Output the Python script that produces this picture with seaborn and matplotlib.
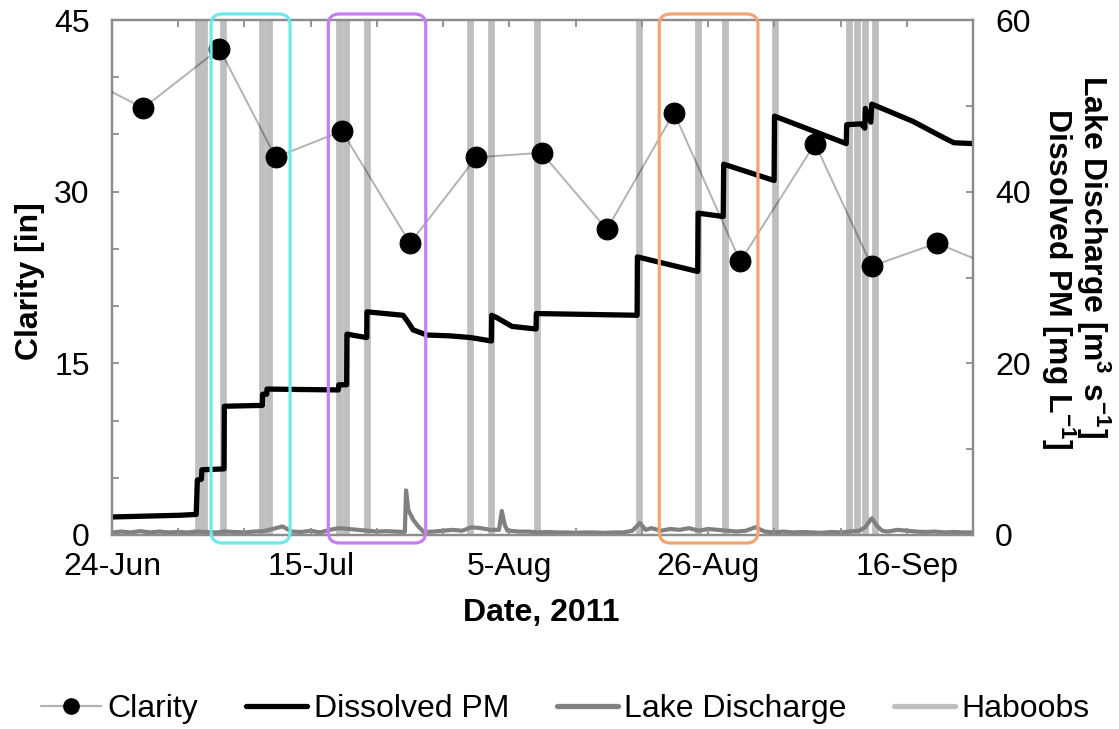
import numpy as np
import pandas as pd
import matplotlib
matplotlib.use("Agg")
import matplotlib.pyplot as plt
import matplotlib.dates as mdates
from matplotlib.ticker import FixedLocator, FuncFormatter, MultipleLocator
from matplotlib.lines import Line2D
from matplotlib.patches import FancyBboxPatch
from matplotlib.transforms import IdentityTransform
import seaborn as sns

# ---------------------------------------------------------------------------
# Data (time given as days elapsed since 24 Jun 2011)
# ---------------------------------------------------------------------------
START = pd.Timestamp("2011-06-24")
END = pd.Timestamp("2011-09-23")

# Secchi clarity [in]
clarity_day = [-3.7, 3.3, 11.35, 17.3, 24.3, 31.5, 38.5, 45.4, 52.3, 59.4,
               66.4, 74.3, 80.3, 87.2, 94.2]
clarity_in = [40.3, 37.3, 42.5, 33.0, 35.3, 25.5, 33.0, 33.4, 26.7, 36.9,
              23.9, 34.2, 23.5, 25.5, 23.1]

# Dissolved PM [mg L-1]
pm_day = [0.0, 7.2, 8.9, 9.02, 9.45, 9.5, 11.84, 11.87, 15.89, 15.92,
          16.35, 16.38, 23.92, 23.97, 24.8, 24.83, 26.92, 26.95, 30.76, 31.29,
          31.82, 33.27, 35.73, 37.93, 40.1, 40.13, 40.7, 42.28, 44.82, 44.85,
          55.5, 55.53, 61.9, 61.95, 64.6, 64.65, 69.98, 70.02, 77.6, 77.65,
          79.18, 79.56, 79.62, 80.2, 80.3, 84.63, 87.89, 88.98, 91.0]
pm_mgL = [2.1, 2.3, 2.4, 6.4, 6.5, 7.6, 7.7, 15.0, 15.1, 16.4,
          16.4, 17.0, 16.9, 17.5, 17.5, 23.4, 23.0, 26.0, 25.6, 24.8,
          23.9, 23.3, 23.2, 23.0, 22.6, 25.6, 25.3, 24.3, 24.0, 25.8,
          25.6, 32.4, 30.7, 37.5, 37.1, 43.2, 41.3, 48.8, 45.6, 47.8,
          47.9, 47.4, 49.7, 48.1, 50.2, 48.2, 46.3, 45.7, 45.6]

# Lake discharge [m3 s-1]
q_day = [0, 1, 2, 3, 4, 5, 6, 7, 8, 9, 10, 11, 12, 13, 14, 15, 16, 17, 18, 19,
         20, 21, 22, 23, 24, 25, 26, 27, 28, 29, 30, 30.95, 31.08, 31.32, 31.85,
         32.38, 32.9, 33, 34, 35, 36, 37, 38, 39, 40, 40.9, 41.2, 41.5, 41.8,
         42, 43, 44, 45, 46, 47, 48, 49, 50, 51, 52, 53, 54, 55, 55.8, 56.4, 57,
         58, 59, 60, 61, 62, 63, 64, 65, 66, 67, 68, 69, 70, 71, 72, 73, 74, 75,
         76, 77, 78, 79, 79.6, 80.3, 80.9, 81.4, 82, 83, 84, 85, 86, 87, 88, 89,
         90, 91]
q_val = [0.3, 0.4, 0.3, 0.45, 0.3, 0.4, 0.3, 0.35, 0.3, 0.4, 0.35, 0.3, 0.4,
         0.35, 0.3, 0.4, 0.45, 0.7, 1.0, 0.4, 0.35, 0.5, 0.3, 0.6, 0.8, 0.7,
         0.6, 0.5, 0.4, 0.45, 0.4, 0.35, 5.2, 2.9, 1.75, 1.0, 0.4, 0.35, 0.4,
         0.5, 0.6, 0.5, 0.9, 0.8, 0.6, 0.6, 2.8, 1.2, 0.5, 0.5, 0.4, 0.4, 0.3,
         0.35, 0.3, 0.3, 0.25, 0.3, 0.3, 0.25, 0.3, 0.3, 0.5, 1.4, 0.6, 0.8,
         0.5, 0.7, 0.6, 0.8, 0.5, 0.7, 0.6, 0.5, 0.4, 0.5, 0.9, 0.4, 0.3, 0.4,
         0.3, 0.35, 0.3, 0.25, 0.35, 0.3, 0.4, 0.5, 0.9, 1.95, 1.0, 0.5, 0.4,
         0.6, 0.5, 0.4, 0.35, 0.4, 0.3, 0.35, 0.3, 0.3]

# Haboob occurrences
haboob_day = [9.05, 9.70, 11.77, 15.9, 16.6, 23.94, 24.68, 26.96, 37.81, 40.06,
              44.88, 55.71, 61.95, 64.75, 70.03, 77.85, 78.75, 79.6, 80.6]

# Highlighted periods (start day, end day, colour)
window_start = [10.47, 22.86, 57.84]
window_end = [18.82, 33.16, 68.27]
window_color = ["#6FE8EC", "#C77DF3", "#F2A472"]

legend_labels = ["Clarity", "Dissolved PM", "Lake Discharge", "Haboobs"]


def to_dates(days):
    return START + pd.to_timedelta(np.asarray(days, dtype=float), unit="D")


# ---------------------------------------------------------------------------
# Style
# ---------------------------------------------------------------------------
sns.set_theme(style="white")
plt.rcParams["font.family"] = ["Liberation Sans", "DejaVu Sans"]
plt.rcParams.update({
    "text.color": "black",
    "axes.labelcolor": "black",
    "xtick.color": "black",
    "ytick.color": "black",
    "mathtext.fontset": "custom",
    "mathtext.rm": "Liberation Sans:bold",
    "mathtext.bf": "Liberation Sans:bold",
    "mathtext.it": "Liberation Sans:bold",
})

FS = 23
GRID_GRAY = "#8C8C8C"

fig = plt.figure(figsize=(11.19, 7.29), dpi=100)
ax = fig.add_axes([112 / 1119, 194 / 729, 861 / 1119, 515 / 729])
ax2 = ax.twinx()

# Haboob bars behind everything (on the secondary axis, which sits below)
for d in to_dates(haboob_day):
    ax2.axvline(d, color="#BFBFBF", lw=4.9, zorder=0)

sns.lineplot(x=to_dates(q_day), y=q_val, ax=ax2, color="#808080", lw=3.0,
             estimator=None, sort=False, legend=False, zorder=2)
sns.lineplot(x=to_dates(pm_day), y=pm_mgL, ax=ax2, color="black", lw=3.8,
             estimator=None, sort=False, legend=False, zorder=3)

sns.lineplot(x=to_dates(clarity_day), y=clarity_in, ax=ax, color="black",
             lw=1.4, marker="o", markersize=15, estimator=None, sort=False,
             legend=False, zorder=4)
cl_line = ax.get_lines()[-1]
cl_line.set_color((0, 0, 0, 0.3))
cl_line.set_markerfacecolor("black")
cl_line.set_markeredgecolor("black")

ax.set_zorder(ax2.get_zorder() + 1)
ax.patch.set_visible(False)
ax2.patch.set_visible(False)

# ---------------------------------------------------------------------------
# Axes
# ---------------------------------------------------------------------------
ax.set_xlim(START, END)
ax.set_ylim(0, 45)
ax2.set_ylim(0, 60)

major_dates = pd.date_range(START, END, freq="21D")
minor_dates = pd.date_range(START, END, freq="7D")
ax.xaxis.set_major_locator(FixedLocator(mdates.date2num(major_dates)))
ax.xaxis.set_minor_locator(FixedLocator(mdates.date2num(minor_dates)))


def fmt_date(v, pos):
    d = mdates.num2date(v)
    return f"{d.day}-{d:%b}"


ax.xaxis.set_major_formatter(FuncFormatter(fmt_date))
ax.yaxis.set_major_locator(MultipleLocator(15))
ax.yaxis.set_minor_locator(MultipleLocator(5))
ax2.yaxis.set_major_locator(MultipleLocator(20))
ax2.yaxis.set_minor_locator(MultipleLocator(10))

ax.tick_params(axis="x", which="both", direction="in", top=True, bottom=True,
               length=5, width=1.3, color=GRID_GRAY, labelcolor="black",
               labelsize=FS, pad=12)
ax.tick_params(axis="y", which="both", direction="in", left=True, right=False,
               length=5, width=1.3, color=GRID_GRAY, labelcolor="black",
               labelsize=FS, pad=16)
ax2.tick_params(axis="y", which="both", direction="in", right=True, left=False,
                length=5, width=1.3, color=GRID_GRAY, labelcolor="black",
                labelsize=FS, pad=16)

for a in (ax, ax2):
    for sp in a.spines.values():
        sp.set_color(GRID_GRAY)
        sp.set_linewidth(1.6)
    a.set_xlabel("")
    a.set_ylabel("")

# Axis titles
fig.text(541 / 1119, 1 - 613 / 729, "Date, 2011", fontsize=FS,
         fontweight="bold", ha="center", va="center", color="black")
fig.text(30 / 1119, 1 - 281 / 729, "Clarity [in]", fontsize=FS,
         fontweight="bold", ha="center", va="center", rotation=90,
         color="black")
fig.text(1093 / 1119, 1 - 257 / 729,
         r"Lake Discharge [$\mathbf{m^{3}\ s^{-1}}$]",
         fontsize=FS, fontweight="bold", ha="center", va="center",
         rotation=270, color="black")
fig.text(1058 / 1119, 1 - 279 / 729, r"Dissolved PM [mg $\mathbf{L^{-1}}$]",
         fontsize=FS, fontweight="bold", ha="center", va="center",
         rotation=270, color="black")

# Highlighted periods as rounded frames
fig.canvas.draw()
for s, e, c in zip(window_start, window_end, window_color):
    x0 = ax.transData.transform((mdates.date2num(to_dates([s])[0]), 0))[0]
    x1 = ax.transData.transform((mdates.date2num(to_dates([e])[0]), 0))[0]
    y0 = ax.transAxes.transform((0, -0.0155))[1]
    y1 = ax.transAxes.transform((0, 1.0117))[1]
    box = FancyBboxPatch((x0, y0), x1 - x0, y1 - y0,
                         boxstyle="round,pad=0,rounding_size=11",
                         transform=IdentityTransform(), fill=False,
                         ec=c, lw=2.3, zorder=10)
    fig.add_artist(box)

# Legend
handles = [
    Line2D([], [], color=(0, 0, 0, 0.3), lw=1.6, marker="o", ms=11,
           mfc="black", mec="black"),
    Line2D([], [], color="black", lw=3.8),
    Line2D([], [], color="#808080", lw=3.8),
    Line2D([], [], color="#BFBFBF", lw=3.8),
]
fig.legend(handles, legend_labels, loc="center", bbox_to_anchor=(0.505, 0.027),
           ncol=4, frameon=False, fontsize=FS, handlelength=1.9,
           handletextpad=0.2, columnspacing=1.5, labelcolor="black")

fig.savefig("out.png", dpi=100)
